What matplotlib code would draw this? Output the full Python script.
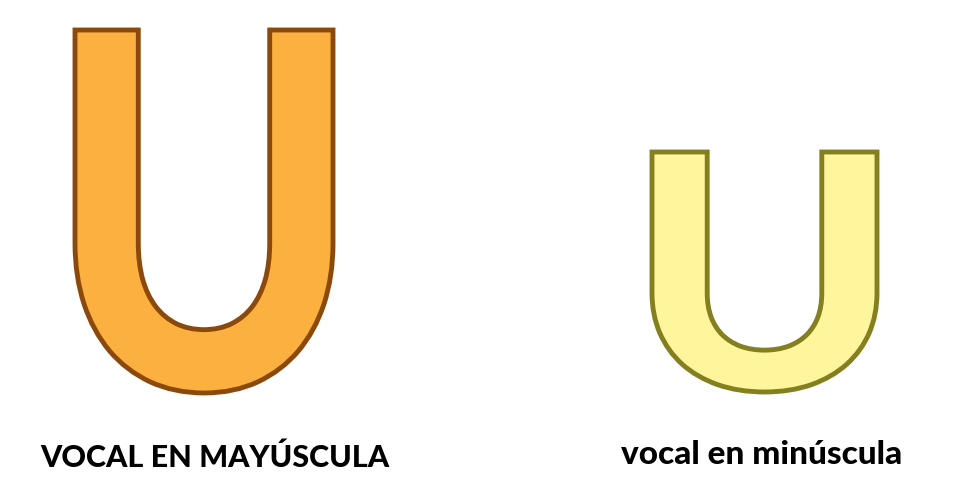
import matplotlib
matplotlib.use("Agg")
import matplotlib.pyplot as plt
from matplotlib.textpath import TextPath
from matplotlib.font_manager import FontProperties
from matplotlib.patches import PathPatch
from matplotlib.transforms import Affine2D

# letters: glyph, box (x0, y0, x1, y1) in pixels, fill, edge
letters = ["U", "U"]
boxes = [(75, 30, 333, 393), (652, 152, 877, 392)]
fills = ["#fbb040", "#fff59d"]
edges = ["#8b4a0c", "#85801f"]
labels = ["VOCAL EN MAYÚSCULA", "vocal en minúscula"]
label_pos = [(215, 458), (762, 455)]
label_sizes = [22, 24]

fig = plt.figure(figsize=(9.6, 5), dpi=100)
ax = fig.add_axes([0, 0, 1, 1])
ax.set_xlim(0, 960)
ax.set_ylim(500, 0)
ax.axis("off")

fp = FontProperties(family="Lato", weight="black")
for ch, (x0, y0, x1, y1), fc, ec in zip(letters, boxes, fills, edges):
    p = TextPath((0, 0), ch, size=100, prop=fp)
    ext = p.get_extents()
    sx = (x1 - x0) / ext.width
    sy = (y1 - y0) / ext.height
    tr = Affine2D().translate(-ext.x0, -ext.y1).scale(sx, -sy).translate(x0, y0)
    ax.add_patch(PathPatch(tr.transform_path(p), facecolor=fc, edgecolor=ec, lw=3.5))

for t, (x, y), fs in zip(labels, label_pos, label_sizes):
    ax.text(x, y, t, ha="center", va="center", fontsize=fs, fontweight="black",
            family="Lato", color="black")

fig.savefig("out.png", dpi=100)
